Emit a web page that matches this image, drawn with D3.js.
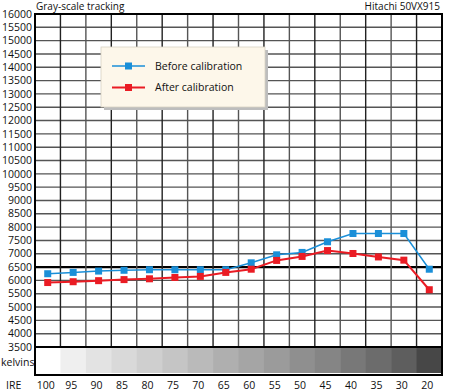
<!DOCTYPE html>
<html>
<head>
<meta charset="utf-8">
<script src="https://cdn.jsdelivr.net/npm/d3@7"></script>
<style>
  body { margin: 0; background: #fff; }
  text { font-family: "Open Sans", "Liberation Sans", sans-serif; fill: #111; }
</style>
</head>
<body>
<svg id="chart" width="450" height="392"></svg>
<script>
// IRE steps along the x axis
const ireSteps = ["100", "95", "90", "85", "80", "75", "70", "65", "60", "55", "50", "45", "40", "35", "30", "20"];
// colour temperature in kelvins
const beforeCal = [6250, 6300, 6350, 6380, 6400, 6400, 6400, 6400, 6660, 6960, 7050, 7450, 7760, 7760, 7760, 6420];
const afterCal  = [5920, 5950, 5990, 6030, 6060, 6110, 6150, 6300, 6420, 6750, 6900, 7120, 7010, 6880, 6760, 5650];
// gray patch shades for the kelvins strip
const patchShades = ["#ffffff", "#efefef", "#e3e3e3", "#d9d9d9", "#cfcfcf", "#c5c5c5", "#bababa", "#afafaf",
                     "#a5a5a5", "#9b9b9b", "#8f8f8f", "#858585", "#787878", "#6c6c6c", "#5e5e5e", "#474747"];
const yTicks = d3.range(3500, 16001, 500);

const svg = d3.select("#chart");
const plotLeft = 35, plotRight = 442, plotTop = 14, plotBottom = 347;
const stripBottom = 375;

const x = d3.scaleBand().domain(ireSteps).range([plotLeft, plotRight]);
const y = d3.scaleLinear().domain([3500, 16000]).range([plotBottom, plotTop]);

// horizontal grid
svg.append("g").selectAll("line")
    .data(yTicks)
    .enter()
    .append("line")
    .attr("x1", plotLeft)
    .attr("x2", plotRight)
    .attr("y1", d => y(d))
    .attr("y2", d => y(d))
    .attr("stroke", d => d === 6500 ? "#000" : "#555")
    .attr("stroke-width", d => d === 6500 ? 2.2 : 1.4);

// vertical grid
svg.append("g").selectAll("line")
    .data(ireSteps.slice(1))
    .enter()
    .append("line")
    .attr("x1", d => x(d))
    .attr("x2", d => x(d))
    .attr("y1", plotTop)
    .attr("y2", plotBottom)
    .attr("stroke", (d, i) => i % 2 ? "#555" : "#222")
    .attr("stroke-width", 1.4);

// y tick labels
svg.append("g").selectAll("text")
    .data(yTicks)
    .enter()
    .append("text")
    .attr("x", 32)
    .attr("y", d => y(d))
    .attr("dy", "0.35em")
    .attr("text-anchor", "end")
    .attr("font-size", 10.5)
    .text(d => d);

// gray strip
svg.append("g").selectAll("rect")
    .data(ireSteps)
    .enter()
    .append("rect")
    .attr("x", d => x(d))
    .attr("y", plotBottom + 1)
    .attr("width", x.bandwidth() + 0.5)
    .attr("height", 25)
    .attr("fill", (d, i) => patchShades[i]);

// frame
svg.append("rect")
    .attr("x", plotLeft)
    .attr("y", plotTop)
    .attr("width", plotRight - plotLeft)
    .attr("height", stripBottom - plotTop)
    .attr("fill", "none")
    .attr("stroke", "#000")
    .attr("stroke-width", 2);
svg.append("line")
    .attr("x1", plotLeft).attr("x2", plotRight)
    .attr("y1", plotBottom).attr("y2", plotBottom)
    .attr("stroke", "#000").attr("stroke-width", 2);

// x labels
svg.append("g").selectAll("text")
    .data(ireSteps)
    .enter()
    .append("text")
    .attr("x", d => x(d) + x.bandwidth() / 2 - 2)
    .attr("y", 389)
    .attr("text-anchor", "middle")
    .attr("font-size", 10.5)
    .text(d => d);
svg.append("text").attr("x", 6).attr("y", 389).attr("font-size", 10.5).text("IRE");
svg.append("text").attr("x", 1).attr("y", 366).attr("font-size", 10.5).text("kelvins");

// titles
svg.append("text").attr("x", 36).attr("y", 10).attr("font-size", 10).text("Gray-scale tracking");
svg.append("text").attr("x", 440).attr("y", 10).attr("font-size", 10).attr("text-anchor", "end").text("Hitachi 50VX915");

const line = d3.line()
    .x((d, i) => x(ireSteps[i]) + x.bandwidth() / 2)
    .y(d => y(d));

function drawSeries(values, color, width) {
    svg.append("path")
        .attr("d", line(values))
        .attr("fill", "none")
        .attr("stroke", color)
        .attr("stroke-width", width);
    svg.append("g").selectAll("rect")
        .data(values)
        .enter()
        .append("rect")
        .attr("x", (d, i) => x(ireSteps[i]) + x.bandwidth() / 2 - 3.5)
        .attr("y", d => y(d) - 3.5)
        .attr("width", 7)
        .attr("height", 7)
        .attr("fill", color);
}
drawSeries(beforeCal, "#1a8fd8", 1.5);
drawSeries(afterCal, "#ea1c24", 2);

// legend
const legend = svg.append("g").attr("transform", "translate(101,47)");
legend.append("rect")
    .attr("x", 3).attr("y", 3)
    .attr("width", 164).attr("height", 60)
    .attr("fill", "#bdbdbd");
legend.append("rect")
    .attr("width", 164).attr("height", 60)
    .attr("fill", "#fdf7ea")
    .attr("stroke", "#d8d2c4")
    .attr("stroke-width", 0.8);
const legendItems = [["Before calibration", "#1a8fd8", 1.5], ["After calibration", "#ea1c24", 2]];
legendItems.forEach((item, i) => {
    const ly = 19 + i * 21.5;
    legend.append("line")
        .attr("x1", 11).attr("x2", 44)
        .attr("y1", ly).attr("y2", ly)
        .attr("stroke", item[1]).attr("stroke-width", item[2]);
    legend.append("rect")
        .attr("x", 24).attr("y", ly - 3.5)
        .attr("width", 7).attr("height", 7)
        .attr("fill", item[1]);
    legend.append("text")
        .attr("x", 54).attr("y", ly)
        .attr("dy", "0.35em")
        .attr("font-size", 10.5)
        .text(item[0]);
});
</script>
</body>
</html>
